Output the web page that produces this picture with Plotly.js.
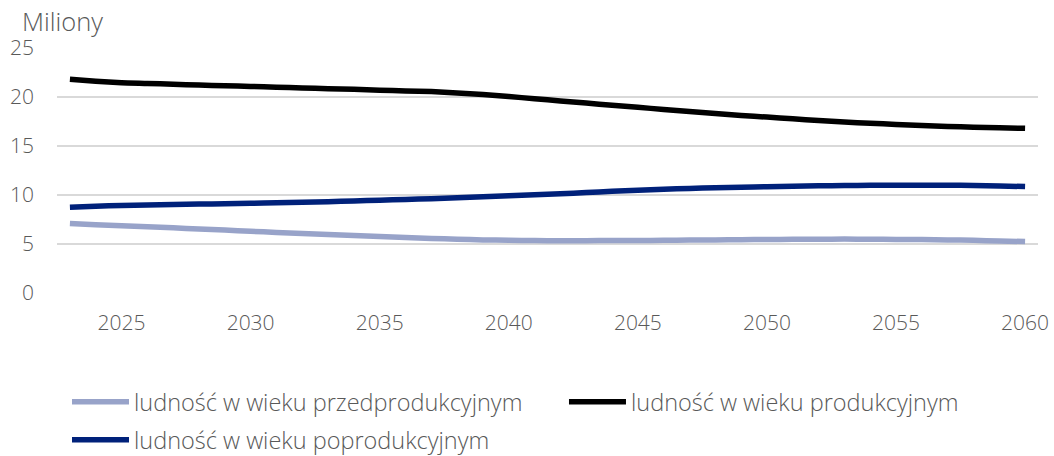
<!DOCTYPE html>
<html>
<head>
<meta charset="utf-8">
<script src="https://cdn.plot.ly/plotly-3.0.1.min.js"></script>
<style>html,body{margin:0;padding:0;background:#fff;}#chart{width:1054px;height:456px;}</style>
</head>
<body>
<div id="chart"></div>
<script>
var years = [];
for (var y = 2023; y <= 2060; y++) years.push(y);

var seriesNames = ["ludność w wieku przedprodukcyjnym", "ludność w wieku produkcyjnym", "ludność w wieku poprodukcyjnym"];

var przedprodukcyjny = [7.10, 6.97, 6.87, 6.77, 6.65, 6.53, 6.42, 6.30, 6.18, 6.08, 5.98, 5.87, 5.77, 5.66, 5.57, 5.48, 5.42, 5.38, 5.35, 5.34, 5.34, 5.35, 5.36, 5.38, 5.40, 5.42, 5.44, 5.46, 5.48, 5.49, 5.50, 5.49, 5.47, 5.45, 5.42, 5.37, 5.31, 5.25];

var produkcyjny = [21.80, 21.60, 21.45, 21.38, 21.30, 21.22, 21.15, 21.08, 21.00, 20.92, 20.85, 20.78, 20.70, 20.62, 20.55, 20.42, 20.25, 20.05, 19.82, 19.60, 19.38, 19.16, 18.95, 18.73, 18.52, 18.32, 18.12, 17.95, 17.78, 17.60, 17.45, 17.32, 17.20, 17.10, 17.00, 16.92, 16.86, 16.80];

var poprodukcyjny = [8.75, 8.85, 8.93, 8.98, 9.03, 9.07, 9.10, 9.15, 9.20, 9.26, 9.32, 9.40, 9.47, 9.55, 9.63, 9.72, 9.82, 9.92, 10.03, 10.13, 10.25, 10.37, 10.48, 10.58, 10.67, 10.74, 10.80, 10.85, 10.90, 10.94, 10.97, 10.99, 11.00, 11.00, 11.00, 10.97, 10.92, 10.86];

var colors = ["#98a3c9", "#000000", "#00217a"];
var values = [przedprodukcyjny, produkcyjny, poprodukcyjny];
var legendIds = ["legend", "legend3", "legend2"];

var font = "Open Sans, sans-serif";
var data = values.map(function (v, i) {
  return {
    x: years, y: v, name: seriesNames[i], type: "scatter", mode: "lines",
    legend: legendIds[i],
    line: {color: colors[i], width: 5.5, shape: "spline", smoothing: 0.6},
    hoverinfo: "skip"
  };
});

var legendFont = {family: font, size: 23.5, color: "#595959", weight: 300};
function leg(x, y) {
  return {
    orientation: "h", x: x, xanchor: "left", y: y, yanchor: "middle",
    itemwidth: 57, font: legendFont, bgcolor: "rgba(0,0,0,0)"
  };
}
var layout = {
  width: 1054, height: 456,
  margin: {l: 57, r: 16, t: 48, b: 163, autoexpand: false},
  paper_bgcolor: "#fff", plot_bgcolor: "#fff",
  font: {family: font, color: "#595959", size: 21},
  showlegend: true,
  legend: leg(0.0102, -0.445),
  legend3: leg(0.5168, -0.445),
  legend2: leg(0.0102, -0.6),
  xaxis: {
    range: [2022.5, 2060.5], tick0: 2025, dtick: 5, tickmode: "linear",
    showgrid: false, zeroline: false, showline: false,
    ticks: "", ticklabelstandoff: 15,
    tickfont: {family: font, size: 21, color: "#595959", weight: 300}
  },
  yaxis: {
    range: [0, 25], tick0: 0, dtick: 5, tickmode: "linear",
    showgrid: true, gridcolor: "#d9d9d9", gridwidth: 1.5,
    zeroline: false, showline: false, ticks: "", ticklabelstandoff: 22,
    tickfont: {family: font, size: 21, color: "#595959", weight: 300}
  },
  annotations: [{
    text: "Miliony", xref: "paper", yref: "paper", x: -0.038, y: 1.0, yshift: 8,
    xanchor: "left", yanchor: "bottom", showarrow: false,
    font: {family: font, size: 25.5, color: "#595959", weight: 300}
  }]
};

Plotly.newPlot("chart", data, layout, {displayModeBar: false, staticPlot: true});
</script>
</body>
</html>
